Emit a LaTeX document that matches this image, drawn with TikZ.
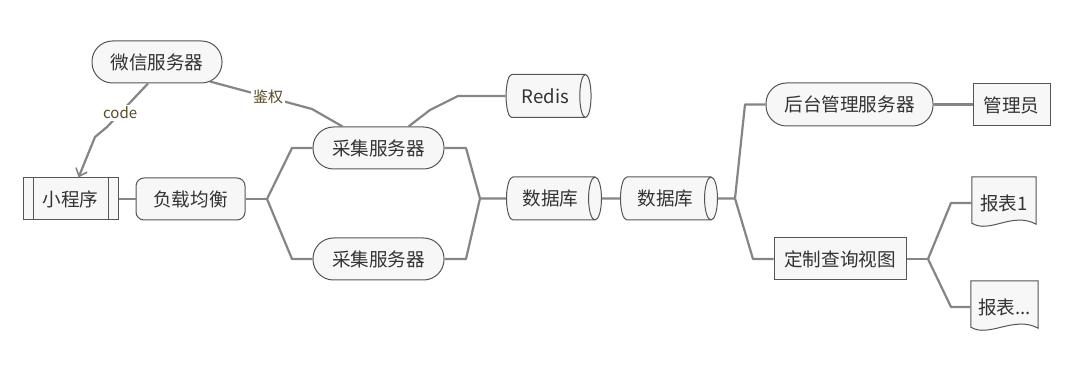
\documentclass[tikz,border=0pt]{standalone}
\usepackage{fontspec}
\setmainfont{Noto Sans CJK SC}
\usetikzlibrary{shapes.geometric,arrows.meta,calc,backgrounds}
\definecolor{nfill}{HTML}{F7F7F7}
\definecolor{nline}{HTML}{555555}
\definecolor{eline}{HTML}{858585}
\definecolor{txt}{HTML}{333333}
\definecolor{lbl}{HTML}{584A28}
\begin{document}
\begin{tikzpicture}[x=1pt,y=-1pt,
  box/.style={draw=nline,fill=nfill,text=txt,line width=1pt,inner sep=0pt,font=\fontsize{18.6}{20}\selectfont},
  stadium/.style={box,rounded corners=20.5pt,minimum height=42pt},
  rbox/.style={box,rounded corners=8pt,minimum height=42pt},
  sbox/.style={box,minimum height=42pt},
  dbcyl/.style={box,shape=cylinder,aspect=0.75,minimum width=43pt},
  doctext/.style={text=txt,inner sep=0pt,font=\fontsize{18.6}{20}\selectfont,minimum height=52pt},
  docshape/.style={draw=nline,fill=nfill,line width=1pt},
  link/.style={draw=eline,line width=2.2pt,line join=round},
  elabel/.style={fill=white,text=lbl,font=\fontsize{15}{16}\selectfont,inner sep=2pt}]
\useasboundingbox (0,0) rectangle (1066,366);

% nodes
\node[stadium,minimum width=130pt] (wx) at (157,62) {微信服务器};
\node[sbox,minimum width=95pt] (xcx) at (70.5,199) {小程序};
\draw[nline,line width=1pt] ($(xcx.north west)+(11,0)$) -- ($(xcx.south west)+(11,0)$);
\draw[nline,line width=1pt] ($(xcx.north east)+(-10,0)$) -- ($(xcx.south east)+(-10,0)$);
\node[rbox,minimum width=109pt] (fz) at (190.5,199) {负载均衡};
\node[stadium,minimum width=131pt] (cj1) at (378.5,148) {采集服务器};
\node[stadium,minimum width=131pt] (cj2) at (378.5,259) {采集服务器};
\node[dbcyl,minimum height=85pt] (redis) at (545.5,96) {Redis};
\node[dbcyl,minimum height=95pt] (db1) at (550.5,198.5) {数据库};
\node[dbcyl,minimum height=97pt] (db2) at (665.5,198.5) {数据库};
\node[stadium,minimum width=167pt,minimum height=43pt] (ht) at (849.5,104.5) {后台管理服务器};
\node[sbox,minimum width=77pt] (gly) at (1011.5,105) {管理员};
\node[sbox,minimum width=132pt] (dz) at (840,259) {定制查询视图};
\node[doctext,minimum width=64pt] (bb1) at (1004,203) {报表1};
\node[doctext,minimum width=67pt] (bb2) at (1004.5,307) {报表...};

\begin{scope}[on background layer]
  \fill[white] (0,0) rectangle (1066,366);
  \path[docshape] (bb1.north west) -- (bb1.north east) -- ($(bb1.south east)+(0,-5)$)
    .. controls ($(bb1.south east)+(-24,-18)$) and ($(bb1.south west)+(18,5)$) .. ($(bb1.south west)+(0,-6)$) -- cycle;
  \path[docshape] (bb2.north west) -- (bb2.north east) -- ($(bb2.south east)+(0,-5)$)
    .. controls ($(bb2.south east)+(-24,-18)$) and ($(bb2.south west)+(18,5)$) .. ($(bb2.south west)+(0,-6)$) -- cycle;
\end{scope}

% junction coordinates
\coordinate (j1) at (267,199);
\coordinate (j1a) at (292,148);
\coordinate (j1b) at (292,259);
\coordinate (j2) at (480,198.5);
\coordinate (j2a) at (466,148);
\coordinate (j2b) at (466,259);
\coordinate (r1) at (430,110);
\coordinate (r2) at (458,96);
\coordinate (j3) at (735,198.5);
\coordinate (j3a) at (745,104.5);
\coordinate (j3b) at (753,259);
\coordinate (j4) at (928,259);
\coordinate (j4a) at (951,203);
\coordinate (j4b) at (951,307);
\coordinate (k1) at (312,109);
\coordinate (c1) at (107,127);
\coordinate (c2) at (95,137);

% connectors
\draw[link] (xcx.east) -- (fz.west);
\draw[link] (fz.east) -- (j1);
\draw[link] (j1) -- (j1a) -- (cj1.west);
\draw[link] (j1) -- (j1b) -- (cj2.west);
\draw[link] (cj1.east) -- (j2a) -- (j2) -- (db1.west);
\draw[link] (cj2.east) -- (j2b) -- (j2);
\draw[link] (db1.east) -- (db2.west);
\draw[link] ($(cj1.north)+(30,0)$) -- (r1) -- (r2) -- (redis.west);
\draw[link] (db2.east) -- (j3);
\draw[link] (j3) -- (j3a) -- (ht.west);
\draw[link] (j3) -- (j3b) -- (dz.west);
\draw[link] (ht.east) -- (ht.east -| gly.west);
\draw[link] (dz.east) -- (j4);
\draw[link] (j4) -- (j4a) -- (bb1.west);
\draw[link] (j4) -- (j4b) -- (bb2.west);
\draw[link] ($(wx.south)+(53,-2)$) -- node[elabel,pos=0.57] (lbljq) {鉴权} (k1) -- ($(cj1.north)+(-36,0)$);
\draw[link,-{Straight Barb[length=7pt,width=12pt,line width=1.6pt]}] ($(wx.south)+(-9,0)$) -- node[elabel,pos=0.68] (lblcode) {code} (c1) -- (c2) -- ($(xcx.north)+(8,0)$);
\end{tikzpicture}
\end{document}
